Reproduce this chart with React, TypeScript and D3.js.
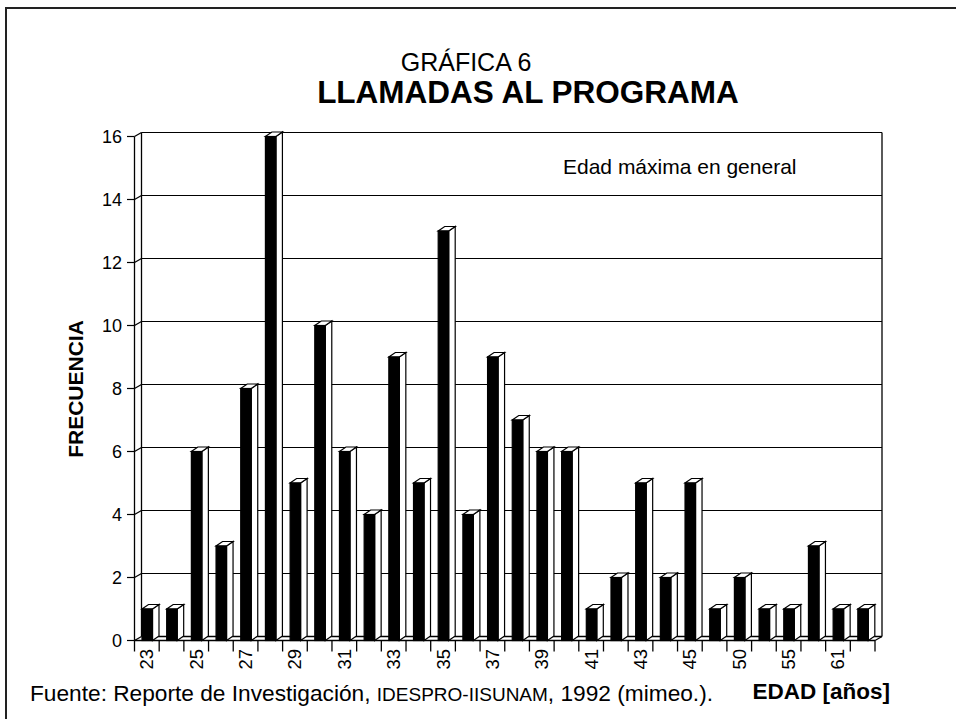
import React from "react";
import * as d3 from "d3";

const ageLabels = ["23","","25","","27","","29","","31","","33","","35","","37","","39","","41","","43","","45","","50","","55","","61",""];
const frequencies = [1,1,6,3,8,16,5,10,6,4,9,5,13,4,9,7,6,6,1,2,5,2,5,1,2,1,1,3,1,1];
const yTicks = [0,2,4,6,8,10,12,14,16];

const W = 956, H = 719;
const FONT = "'Liberation Sans', Arial, Helvetica, sans-serif";
const DX = 7, DY = -4; // wall depth
const BDX = 6.5, BDY = -4.5; // bar depth

export default function App() {
  const idx = frequencies.map((_, i) => i);
  const x = d3.scaleBand<number>().domain(idx).range([134.5, 875]).padding(0);
  const y = d3.scaleLinear().domain([0, 16]).range([640.5, 136.5]);
  const xL = x.range()[0], xR = x.range()[1];
  const bw = x.bandwidth();
  const line = (pts: [number, number][]) => d3.line()(pts) as string;

  return (
    <svg width={W} height={H} style={{ position: "absolute", left: 0, top: 0, background: "#fff" }} fontFamily={FONT}>
      <rect x={6} y={8} width={W + 10} height={H + 10} fill="#fff" stroke="#222" strokeWidth={2} />
      {/* titles */}
      <text x={466} y={71} fontSize={25} textAnchor="middle" fill="#000">GRÁFICA 6</text>
      <text x={528} y={103} fontSize={31.5} fontWeight="bold" textAnchor="middle" fill="#000">LLAMADAS AL PROGRAMA</text>

      {/* gridlines on back wall and left wall */}
      {yTicks.map(t => (
        <g key={t} stroke="#000" strokeWidth={1.2} fill="none">
          <line x1={127} x2={xL} y1={y(t)} y2={y(t)} />
          <path d={line([[xL, y(t)], [xL + DX, y(t) + DY]])} />
          {t > 0 && <line x1={xL + DX} x2={xR + DX} y1={y(t) + DY} y2={y(t) + DY} />}
        </g>
      ))}
      {yTicks.map(t => (
        <text key={"l" + t} x={122} y={y(t)} dy="0.35em" fontSize={18} textAnchor="end" fill="#000">{t}</text>
      ))}
      {/* walls */}
      <g stroke="#000" strokeWidth={1.3} fill="none">
        <line x1={xL} x2={xL} y1={y(16)} y2={y(0)} />
        <line x1={xL + DX} x2={xL + DX} y1={y(16) + DY} y2={y(0) + DY} />
        <line x1={xR + DX} x2={xR + DX} y1={y(16) + DY} y2={y(0) + DY} />
        <line x1={xL + DX} x2={xR + DX} y1={y(0) + DY} y2={y(0) + DY} />
        <line x1={xL} x2={xR} y1={y(0)} y2={y(0)} />
        <path d={line([[xR, y(0)], [xR + DX, y(0) + DY]])} />
      </g>
      {/* x ticks */}
      {d3.range(frequencies.length + 1).map(i => {
        const xx = xL + i * bw;
        return <line key={"t" + i} x1={xx} x2={xx} y1={y(0)} y2={y(0) + 11} stroke="#000" strokeWidth={1.3} />;
      })}
      {/* bars */}
      {frequencies.map((v, i) => {
        const x1 = (x(i) as number) + 7.5;
        const x2 = x1 + 10.5;
        const yt = y(v), yb = y(0);
        return (
          <g key={"b" + i} stroke="#000" strokeWidth={1.2} strokeLinejoin="miter">
            <path d={line([[x2, yt], [x2 + BDX, yt + BDY], [x2 + BDX, yb + BDY], [x2, yb]]) + "Z"} fill="#fff" />
            <path d={line([[x1, yt], [x2, yt], [x2 + BDX, yt + BDY], [x1 + BDX, yt + BDY]]) + "Z"} fill="#fff" />
            <rect x={x1} y={yt} width={x2 - x1} height={yb - yt} fill="#000" />
          </g>
        );
      })}
      {/* x labels */}
      {ageLabels.map((lab, i) => lab ? (
        <text key={"x" + i} transform={`translate(${(x(i) as number) + bw / 2},649) rotate(-90)`} dy="0.35em" fontSize={18.5} textAnchor="end" fill="#000">{lab}</text>
      ) : null)}

      <text x={563} y={174} fontSize={21} fill="#000">Edad máxima en general</text>
      <text transform="translate(83,389) rotate(-90)" fontSize={21} fontWeight="bold" textAnchor="middle" fill="#000">FRECUENCIA</text>
      <text x={890} y={699} fontSize={22.5} fontWeight="bold" textAnchor="end" fill="#000">EDAD [años]</text>
      <text x={30} y={701} fontSize={22.7} fill="#000">
        Fuente: Reporte de Investigación, <tspan fontSize={19}>IDESPRO-IISUNAM</tspan>, 1992 (mimeo.).
      </text>
    </svg>
  );
}
